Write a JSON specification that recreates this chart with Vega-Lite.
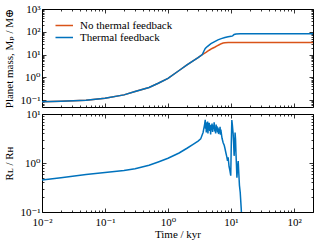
{
  "$schema": "https://vega.github.io/schema/vega-lite/v6.json",
  "padding": {"left": 3, "top": 2, "right": 4, "bottom": 2},
  "datasets": {
    "mass": [
      {"t": 0.01, "m": 0.085, "s": "No thermal feedback"},
      {"t": 0.02, "m": 0.09, "s": "No thermal feedback"},
      {"t": 0.05, "m": 0.098, "s": "No thermal feedback"},
      {"t": 0.1, "m": 0.12, "s": "No thermal feedback"},
      {"t": 0.2, "m": 0.17, "s": "No thermal feedback"},
      {"t": 0.3, "m": 0.24, "s": "No thermal feedback"},
      {"t": 0.5, "m": 0.36, "s": "No thermal feedback"},
      {"t": 0.7, "m": 0.55, "s": "No thermal feedback"},
      {"t": 1, "m": 0.9, "s": "No thermal feedback"},
      {"t": 1.5, "m": 2.0, "s": "No thermal feedback"},
      {"t": 2, "m": 3.5, "s": "No thermal feedback"},
      {"t": 2.5, "m": 5.3, "s": "No thermal feedback"},
      {"t": 3, "m": 7.3, "s": "No thermal feedback"},
      {"t": 3.5, "m": 10, "s": "No thermal feedback"},
      {"t": 4, "m": 12.5, "s": "No thermal feedback"},
      {"t": 4.5, "m": 15.5, "s": "No thermal feedback"},
      {"t": 5, "m": 18.5, "s": "No thermal feedback"},
      {"t": 5.5, "m": 21, "s": "No thermal feedback"},
      {"t": 6, "m": 24, "s": "No thermal feedback"},
      {"t": 6.5, "m": 27, "s": "No thermal feedback"},
      {"t": 7, "m": 30, "s": "No thermal feedback"},
      {"t": 7.5, "m": 32, "s": "No thermal feedback"},
      {"t": 8, "m": 33, "s": "No thermal feedback"},
      {"t": 9, "m": 33.5, "s": "No thermal feedback"},
      {"t": 200, "m": 33.5, "s": "No thermal feedback"},
      {"t": 0.01, "m": 0.085, "s": "Thermal feedback"},
      {"t": 0.02, "m": 0.09, "s": "Thermal feedback"},
      {"t": 0.05, "m": 0.098, "s": "Thermal feedback"},
      {"t": 0.1, "m": 0.12, "s": "Thermal feedback"},
      {"t": 0.2, "m": 0.17, "s": "Thermal feedback"},
      {"t": 0.3, "m": 0.24, "s": "Thermal feedback"},
      {"t": 0.5, "m": 0.36, "s": "Thermal feedback"},
      {"t": 0.7, "m": 0.55, "s": "Thermal feedback"},
      {"t": 1, "m": 0.9, "s": "Thermal feedback"},
      {"t": 1.5, "m": 2.0, "s": "Thermal feedback"},
      {"t": 2, "m": 3.5, "s": "Thermal feedback"},
      {"t": 2.5, "m": 5.3, "s": "Thermal feedback"},
      {"t": 3, "m": 7.3, "s": "Thermal feedback"},
      {"t": 3.5, "m": 10, "s": "Thermal feedback"},
      {"t": 3.7, "m": 14, "s": "Thermal feedback"},
      {"t": 3.9, "m": 18.5, "s": "Thermal feedback"},
      {"t": 4.2, "m": 22.5, "s": "Thermal feedback"},
      {"t": 4.8, "m": 30, "s": "Thermal feedback"},
      {"t": 5.5, "m": 37, "s": "Thermal feedback"},
      {"t": 6.2, "m": 44, "s": "Thermal feedback"},
      {"t": 7, "m": 50, "s": "Thermal feedback"},
      {"t": 8, "m": 56, "s": "Thermal feedback"},
      {"t": 9, "m": 60, "s": "Thermal feedback"},
      {"t": 10, "m": 63, "s": "Thermal feedback"},
      {"t": 10.6, "m": 66, "s": "Thermal feedback"},
      {"t": 11.2, "m": 76, "s": "Thermal feedback"},
      {"t": 12, "m": 80, "s": "Thermal feedback"},
      {"t": 14, "m": 82, "s": "Thermal feedback"},
      {"t": 200, "m": 82, "s": "Thermal feedback"}
    ],
    "ratio": [
      {"t": 0.01, "r": 0.45}, {"t": 0.02, "r": 0.5}, {"t": 0.05, "r": 0.58},
      {"t": 0.1, "r": 0.64}, {"t": 0.2, "r": 0.7}, {"t": 0.3, "r": 0.76},
      {"t": 0.5, "r": 0.9}, {"t": 0.7, "r": 1.05}, {"t": 1.0, "r": 1.25},
      {"t": 1.5, "r": 1.6}, {"t": 2.0, "r": 2.0}, {"t": 2.5, "r": 2.4},
      {"t": 3.0, "r": 2.8}, {"t": 3.3, "r": 3.1}, {"t": 3.6, "r": 4.2},
      {"t": 3.8, "r": 6.0}, {"t": 3.9, "r": 7.6}, {"t": 3.95, "r": 5.0},
      {"t": 4.0, "r": 6.8}, {"t": 4.05, "r": 4.2}, {"t": 4.1, "r": 6.5},
      {"t": 4.2, "r": 5.2}, {"t": 4.25, "r": 7.0}, {"t": 4.3, "r": 4.0},
      {"t": 4.4, "r": 6.2}, {"t": 4.45, "r": 4.8}, {"t": 4.5, "r": 6.6},
      {"t": 4.6, "r": 4.5}, {"t": 4.7, "r": 5.8}, {"t": 4.75, "r": 3.8},
      {"t": 4.8, "r": 6.0}, {"t": 4.9, "r": 4.7}, {"t": 5.0, "r": 6.4},
      {"t": 5.1, "r": 4.3}, {"t": 5.2, "r": 5.9}, {"t": 5.3, "r": 4.9},
      {"t": 5.4, "r": 6.8}, {"t": 5.5, "r": 4.4}, {"t": 5.6, "r": 5.5},
      {"t": 5.7, "r": 4.0}, {"t": 5.8, "r": 6.1}, {"t": 5.9, "r": 4.6},
      {"t": 6.0, "r": 5.6}, {"t": 6.1, "r": 4.2}, {"t": 6.2, "r": 5.3},
      {"t": 6.35, "r": 3.9}, {"t": 6.5, "r": 5.0}, {"t": 6.6, "r": 4.4},
      {"t": 6.7, "r": 5.5}, {"t": 6.8, "r": 3.8}, {"t": 6.9, "r": 4.8},
      {"t": 7.0, "r": 4.1}, {"t": 7.2, "r": 3.2}, {"t": 7.5, "r": 2.6},
      {"t": 7.8, "r": 2.3}, {"t": 8.0, "r": 2.0}, {"t": 8.3, "r": 1.6},
      {"t": 8.6, "r": 1.3}, {"t": 8.8, "r": 1.1}, {"t": 9.0, "r": 1.3},
      {"t": 9.3, "r": 0.85}, {"t": 9.6, "r": 0.7}, {"t": 9.9, "r": 0.55},
      {"t": 10.1, "r": 2.5}, {"t": 10.3, "r": 7.5}, {"t": 10.5, "r": 6.0},
      {"t": 10.8, "r": 4.0}, {"t": 11.0, "r": 2.5}, {"t": 11.2, "r": 1.4},
      {"t": 11.4, "r": 2.2}, {"t": 11.6, "r": 4.2}, {"t": 11.8, "r": 3.0},
      {"t": 12.0, "r": 1.5}, {"t": 12.2, "r": 0.9}, {"t": 12.4, "r": 0.5},
      {"t": 12.7, "r": 0.8}, {"t": 13.0, "r": 1.1}, {"t": 13.3, "r": 0.6},
      {"t": 13.6, "r": 0.35}, {"t": 14.0, "r": 0.25}, {"t": 14.5, "r": 0.12},
      {"t": 15.0, "r": 0.05}, {"t": 15.5, "r": 0.02}
    ]
  },
  "spacing": -4,
  "vconcat": [
    {
      "width": 271,
      "height": 98,
      "data": {"name": "mass"},
      "layer": [
        {
          "mark": {"type": "line", "strokeWidth": 1.5, "clip": true},
          "encoding": {
            "x": {
              "field": "t", "type": "quantitative",
              "scale": {"type": "log", "domain": [0.01, 200], "nice": false},
              "axis": {
                "orient": "bottom", "title": null, "labels": false,
                "values": [0.01,0.02,0.03,0.04,0.05,0.06,0.07,0.08,0.09,0.1,0.2,0.3,0.4,0.5,0.6,0.7,0.8,0.9,1,2,3,4,5,6,7,8,9,10,20,30,40,50,60,70,80,90,100,200],
                "tickSize": {"condition": {"test": "indexof([0.01,0.1,1,10,100,1000], datum.value) >= 0", "value": -4}, "value": -2}
              }
            },
            "y": {
              "field": "m", "type": "quantitative",
              "scale": {"type": "log", "domain": [0.05, 1000], "nice": false},
              "axis": {
                "orient": "left", "title": "Planet mass, Mₚ / M⊕",
                "values": [0.06,0.07,0.08,0.09,0.1,0.2,0.3,0.4,0.5,0.6,0.7,0.8,0.9,1,2,3,4,5,6,7,8,9,10,20,30,40,50,60,70,80,90,100,200,300,400,500,600,700,800,900,1000],
                "labelExpr": "datum.value == 0.1 ? '10⁻¹' : datum.value == 1 ? '10⁰' : datum.value == 10 ? '10¹' : datum.value == 100 ? '10²' : datum.value == 1000 ? '10³' : ''",
                "tickSize": {"condition": {"test": "indexof([0.01,0.1,1,10,100,1000], datum.value) >= 0", "value": -4}, "value": -2},
                "labelPadding": 6,
                "titlePadding": 5
              }
            },
            "color": {
              "field": "s", "type": "nominal",
              "scale": {"domain": ["No thermal feedback", "Thermal feedback"], "range": ["#D95319", "#0072BD"]},
              "legend": {
                "title": null, "orient": "none", "legendX": 13.5, "legendY": 10.5,
                "symbolType": "M-2,0H2", "symbolSize": 121, "symbolStrokeWidth": 1.5,
                "labelFont": "Liberation Serif, DejaVu Serif, serif", "labelFontSize": 11, "labelColor": "black",
                "labelOffset": 11.5,
                "clipHeight": 12,
                "rowPadding": -2, "padding": 0
              }
            }
          }
        },
        {
          "mark": {"type": "line", "opacity": 0},
          "encoding": {
            "x": {
              "field": "t", "type": "quantitative",
              "axis": {
                "orient": "top", "title": null, "labels": false,
                "values": [0.01,0.02,0.03,0.04,0.05,0.06,0.07,0.08,0.09,0.1,0.2,0.3,0.4,0.5,0.6,0.7,0.8,0.9,1,2,3,4,5,6,7,8,9,10,20,30,40,50,60,70,80,90,100,200],
                "tickSize": {"condition": {"test": "indexof([0.01,0.1,1,10,100,1000], datum.value) >= 0", "value": -4}, "value": -2}
              }
            },
            "y": {
              "field": "m", "type": "quantitative",
              "axis": {
                "orient": "right", "title": null, "labels": false,
                "values": [0.06,0.07,0.08,0.09,0.1,0.2,0.3,0.4,0.5,0.6,0.7,0.8,0.9,1,2,3,4,5,6,7,8,9,10,20,30,40,50,60,70,80,90,100,200,300,400,500,600,700,800,900,1000],
                "tickSize": {"condition": {"test": "indexof([0.01,0.1,1,10,100,1000], datum.value) >= 0", "value": -4}, "value": -2}
              }
            },
            "detail": {"field": "s"}
          }
        }
      ],
      "resolve": {"axis": {"x": "independent", "y": "independent"}}
    },
    {
      "width": 271,
      "height": 98,
      "data": {"name": "ratio"},
      "layer": [
        {
          "mark": {"type": "line", "strokeWidth": 1.5, "clip": true, "color": "#0072BD"},
          "encoding": {
            "x": {
              "field": "t", "type": "quantitative",
              "scale": {"type": "log", "domain": [0.01, 200], "nice": false},
              "axis": {
                "orient": "bottom", "title": "Time / kyr",
                "values": [0.01,0.02,0.03,0.04,0.05,0.06,0.07,0.08,0.09,0.1,0.2,0.3,0.4,0.5,0.6,0.7,0.8,0.9,1,2,3,4,5,6,7,8,9,10,20,30,40,50,60,70,80,90,100,200],
                "labelExpr": "datum.value == 0.01 ? '10⁻²' : datum.value == 0.1 ? '10⁻¹' : datum.value == 1 ? '10⁰' : datum.value == 10 ? '10¹' : datum.value == 100 ? '10²' : ''",
                "tickSize": {"condition": {"test": "indexof([0.01,0.1,1,10,100,1000], datum.value) >= 0", "value": -4}, "value": -2},
                "labelPadding": 8,
                "titlePadding": -1
              }
            },
            "y": {
              "field": "r", "type": "quantitative",
              "scale": {"type": "log", "domain": [0.1, 10], "nice": false},
              "axis": {
                "orient": "left", "title": "Rʟ / Rʜ",
                "values": [0.1,0.2,0.3,0.4,0.5,0.6,0.7,0.8,0.9,1,2,3,4,5,6,7,8,9,10],
                "labelExpr": "datum.value == 0.1 ? '10⁻¹' : datum.value == 1 ? '10⁰' : datum.value == 10 ? '10¹' : ''",
                "tickSize": {"condition": {"test": "indexof([0.01,0.1,1,10,100,1000], datum.value) >= 0", "value": -4}, "value": -2},
                "labelPadding": 6,
                "titlePadding": 5
              }
            }
          }
        },
        {
          "mark": {"type": "line", "opacity": 0},
          "encoding": {
            "x": {
              "field": "t", "type": "quantitative",
              "axis": {
                "orient": "top", "title": null, "labels": false,
                "values": [0.01,0.02,0.03,0.04,0.05,0.06,0.07,0.08,0.09,0.1,0.2,0.3,0.4,0.5,0.6,0.7,0.8,0.9,1,2,3,4,5,6,7,8,9,10,20,30,40,50,60,70,80,90,100,200],
                "tickSize": {"condition": {"test": "indexof([0.01,0.1,1,10,100,1000], datum.value) >= 0", "value": -4}, "value": -2}
              }
            },
            "y": {
              "field": "r", "type": "quantitative",
              "axis": {
                "orient": "right", "title": null, "labels": false,
                "values": [0.1,0.2,0.3,0.4,0.5,0.6,0.7,0.8,0.9,1,2,3,4,5,6,7,8,9,10],
                "tickSize": {"condition": {"test": "indexof([0.01,0.1,1,10,100,1000], datum.value) >= 0", "value": -4}, "value": -2}
              }
            }
          }
        }
      ],
      "resolve": {"axis": {"x": "independent", "y": "independent"}}
    }
  ],
  "config": {
    "font": "Liberation Serif, DejaVu Serif, serif",
    "view": {"stroke": "black", "strokeWidth": 1},
    "axis": {
      "domain": false, "grid": false,
      "tickColor": "black", "tickWidth": 0.8,
      "labelColor": "black", "titleColor": "black",
      "labelFont": "Liberation Serif, DejaVu Serif, serif", "titleFont": "Liberation Serif, DejaVu Serif, serif",
      "labelFontSize": 11, "titleFontSize": 11, "titleFontWeight": "normal",
      "labelFlush": false, "labelOverlap": false, "labelBound": false
    },
    "legend": {"labelFont": "Liberation Serif, DejaVu Serif, serif"}
  }
}
